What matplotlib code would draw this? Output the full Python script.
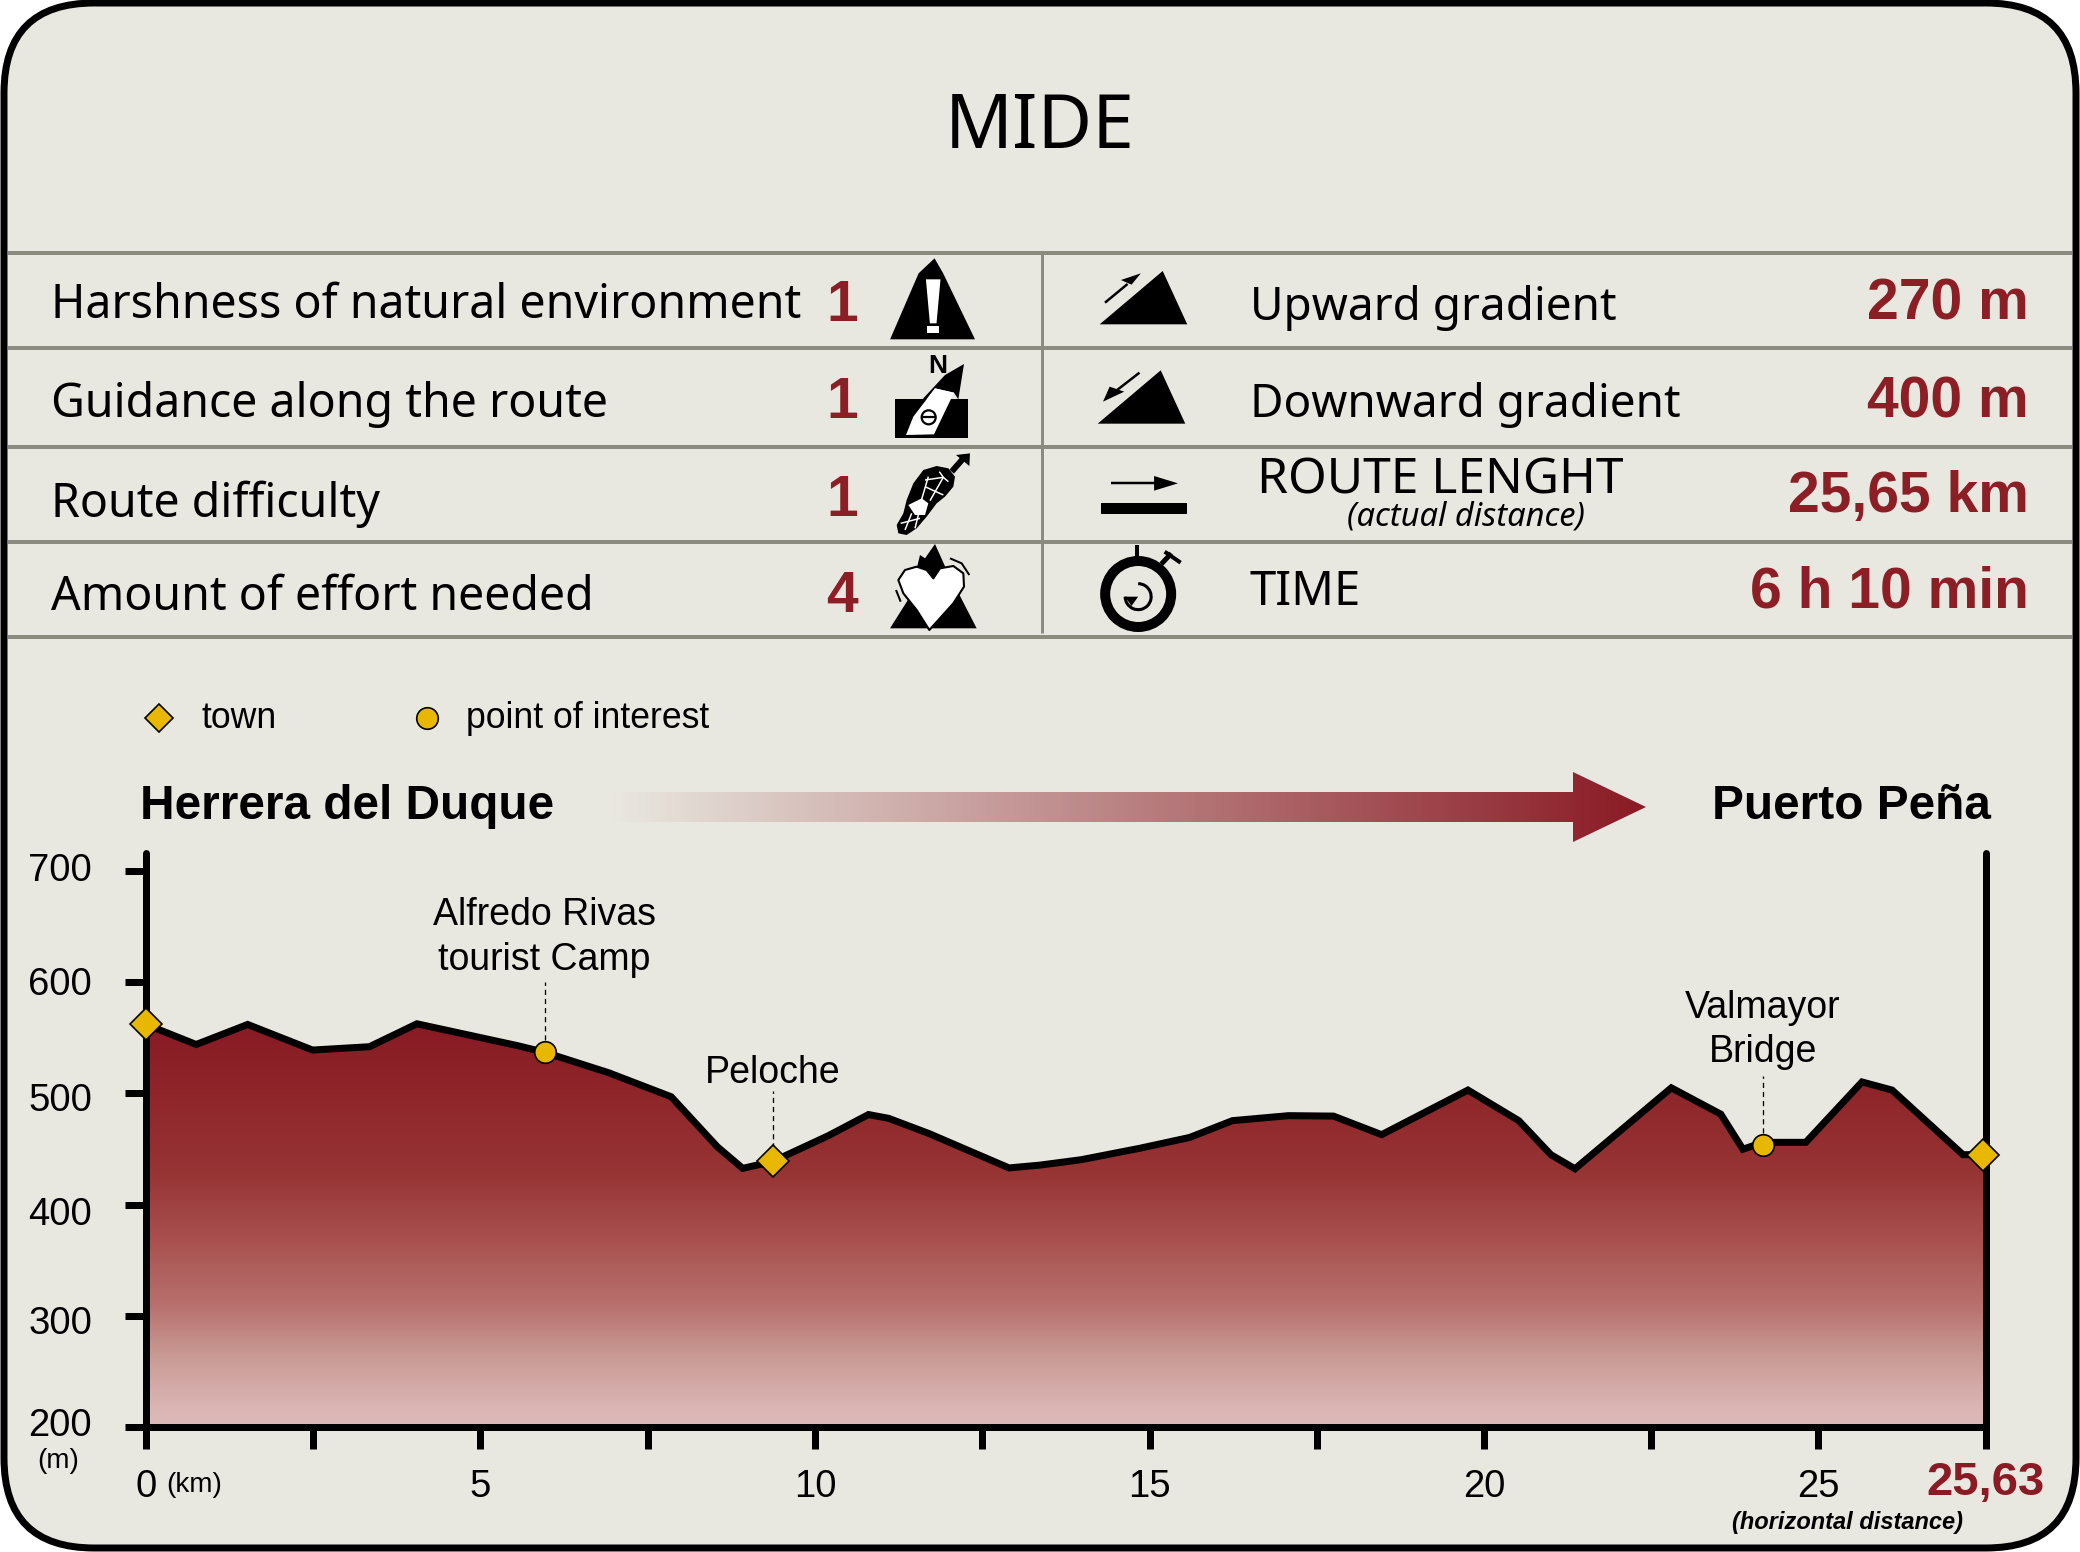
import numpy as np
import matplotlib
matplotlib.use("Agg")
import matplotlib.pyplot as plt
from matplotlib.colors import LinearSegmentedColormap
from matplotlib.patches import FancyBboxPatch, Polygon, Circle, Arc
from matplotlib.transforms import ScaledTranslation, blended_transform_factory

# ---- data -------------------------------------------------------------
title = "MIDE"
left_labels = ["Harshness of natural environment", "Guidance along the route",
               "Route difficulty", "Amount of effort needed"]
left_scores = ["1", "1", "1", "4"]
right_labels = ["Upward gradient", "Downward gradient", "ROUTE LENGHT", "TIME"]
right_values = ["270 m", "400 m", "25,65 km", "6 h 10 min"]
start_name = "Herrera del Duque"
end_name = "Puerto Peña"

profile_km = [0, 0.75, 1.52, 2.49, 3.34, 4.05, 5.55, 5.96, 6.92, 7.85, 8.54, 8.92, 9.37,
              10.2, 10.8, 11.1, 11.7, 12.9, 13.36, 13.98, 14.85, 15.6, 16.24, 17.08, 17.75,
              18.47, 19.76, 20.52, 21.0, 21.36, 22.8, 23.54, 23.87, 24.17, 24.81, 25.65,
              26.1, 27.16, 27.46]
profile_m = [562, 544, 562, 539, 542, 562.6, 543, 537, 518.5, 497, 452, 432.6, 438.8,
             462, 481, 477.6, 464, 433, 435.5, 440.4, 450.6, 460.4, 475.5, 480, 479.6,
             462.9, 503, 475.5, 444.9, 432.2, 505, 481.3, 449.8, 456, 456, 510.3,
             503, 444.9, 445]

town_km = [0, 9.37, 27.46]
town_m = [562, 438.8, 445]
poi_km = [5.96, 24.17]
poi_m = [537, 454]

label_text = ["Alfredo Rivas", "tourist Camp", "Peloche", "Valmayor", "Bridge"]
label_km = [5.96, 5.96, 9.37, 24.17, 24.17]
label_m = [651.5, 611, 509.4, 568, 528.3]

leader_km = [5.96, 9.37, 24.17]
leader_top = [600, 502, 516]
leader_bottom = [548, 451, 464]

y_ticks = [200, 300, 400, 500, 600, 700]
x_ticks = [0, 2.5, 5, 7.5, 10, 12.5, 15, 17.5, 20, 22.5, 25, 27.5]
x_tick_labels = ["0", "", "5", "", "10", "", "15", "", "20", "", "25", ""]
end_tick_label = "25,63"

# ---- style ------------------------------------------------------------
W, H = 2080, 1552
PX = 0.72
BG = "#e9e8e0"
RED = "#8c1f25"
RULE = "#8b8b80"
YEL = "#e8b800"
SANS = "Liberation Sans"
BODY = "Noto Sans"

fig = plt.figure(figsize=(20.8, 15.52), dpi=100, facecolor="white")
page = fig.add_axes([0, 0, 1, 1])
page.set_xlim(0, W)
page.set_ylim(H, 0)
page.axis("off")

page.add_patch(FancyBboxPatch((4 + 90, 3 + 90), W - 8 - 180, H - 7 - 180,
                              boxstyle="round,pad=90,rounding_size=90",
                              fc=BG, ec="black", lw=7 * PX, zorder=0))

page.text(1040, 148, title, family=BODY, fontsize=54, ha="center", va="baseline", color="black")

for y in [253, 348, 447, 542, 637]:
    page.plot([8, 2072], [y, y], color=RULE, lw=4 * PX, solid_capstyle="butt", zorder=1)
page.plot([1042, 1042], [253, 633], color=RULE, lw=3 * PX, solid_capstyle="butt", zorder=1)

for label, y in zip(left_labels, [318.5, 416.5, 516.5, 610]):
    page.text(51, y, label, family=BODY, fontsize=33.5, va="baseline", color="black")
for score, y in zip(left_scores, [300, 397, 495, 591]):
    page.text(826, y, score, family=SANS, weight="bold", fontsize=41, va="center_baseline", color=RED)

for label, x, y, s in zip(right_labels, [1250, 1250, 1257, 1250], [320, 417, 493, 605], [33.1, 33.1, 35.8, 34]):
    page.text(x, y, label, family=BODY, fontsize=s, va="baseline", color="black")
page.text(1466, 526, "(actual distance)", family=BODY, style="italic", fontsize=23.5,
          ha="center", va="baseline", color="black")
for value, y in zip(right_values, [299, 396, 491, 586]):
    page.text(2029, y, value, family=SANS, weight="bold", fontsize=41, ha="right",
              va="center_baseline", color=RED)


# ---- icons (decoration, in page pixels) --------------------------------
def zl(pts):
    return [(x / 1.5077, 240 + y / 3) for x, y in pts]


def zr(pts):
    return [(1040 + x / 1.5077, 240 + y / 3) for x, y in pts]


def zi(pts):
    return [(880 + x / 3, 340 + y / 3) for x, y in pts]


def poly(pts, fc="black", ec="none", lw=0, z=3):
    page.add_patch(Polygon(pts, closed=True, fc=fc, ec=ec, lw=lw, zorder=z, joinstyle="round"))


def seg(pts, lw, color="black", z=4):
    xs, ys = zip(*pts)
    page.plot(xs, ys, color=color, lw=lw * PX, solid_capstyle="butt", zorder=z)


# warning mountain
poly(zl([(1342, 298), (1385, 100), (1393, 85), (1409, 55), (1422, 100), (1470, 298)]))
poly(zl([(1396, 118), (1418, 118), (1412, 250), (1402, 250)]), fc="white", z=4)
poly(zl([(1398, 258), (1416, 258), (1416, 280), (1398, 280)]), fc="white", z=4)
# compass
poly(zi([(45, 178), (263, 178), (263, 295), (45, 295)]))
poly(zi([(100, 230), (130, 175), (195, 105), (252, 72), (235, 178), (222, 158), (165, 145)]), z=4)
poly(zi([(78, 285), (162, 283), (222, 158), (165, 145), (100, 230)]), fc="white", z=4)
page.text(*zi([(172, 78)])[0], "N", family=SANS, weight="bold", fontsize=19, ha="center", va="center", zorder=5)
cx, cy = zi([(146, 232)])[0]
page.add_patch(Circle((cx, cy), 7, fc="white", ec="black", lw=1.6, zorder=5))
page.plot([cx - 6, cx + 6], [cy, cy], color="black", lw=1.6, zorder=6)
# boot sole
poly(zi([(50, 555), (70, 520), (80, 480), (100, 430), (130, 390), (170, 378), (205, 385),
         (225, 410), (220, 440), (195, 470), (170, 490), (140, 530), (110, 565), (80, 585), (55, 580)]))
poly(zi([(85, 495), (125, 475), (145, 490), (135, 525), (105, 525)]), fc="white", z=4)
seg(zi([(178, 395), (190, 412), (150, 482)]), 1.5, "white")
seg(zi([(135, 420), (190, 412)]), 1.5, "white")
seg(zi([(145, 410), (125, 478)]), 1.5, "white")
seg(zi([(135, 440), (190, 465)]), 1.5, "white")
seg(zi([(205, 425), (190, 412)]), 1.5, "white")
seg(zi([(95, 520), (75, 570)]), 1.5, "white")
seg(zi([(115, 525), (105, 565)]), 1.5, "white")
seg(zi([(62, 550), (120, 535)]), 1.5, "white")
seg(zi([(215, 395), (250, 355)]), 6)
poly(zi([(228, 345), (270, 340), (268, 378)]))
# heart mountain
poly(zi([(30, 865), (90, 770), (120, 645), (135, 655), (165, 612), (200, 690), (290, 865)]))
poly(zi([(148, 870), (110, 810), (70, 760), (55, 720), (75, 690), (110, 680), (140, 690), (160, 715),
         (180, 685), (220, 678), (250, 700), (252, 740), (220, 790), (175, 840)]),
     fc="white", ec="black", lw=1.5, z=4)
seg(zi([(210, 655), (245, 670), (268, 705)]), 2)
seg(zi([(48, 750), (62, 785)]), 2)
# up gradient
poly(zr([(90, 253), (185, 93), (222, 253)]))
seg(zr([(98, 188), (132, 132)]), 2.5)
poly(zr([(152, 100), (122, 120), (138, 134)]))
# down gradient
poly(zr([(87, 551), (182, 391), (219, 551)]))
seg(zr([(150, 398), (115, 452)]), 2.5)
poly(zr([(95, 485), (105, 440), (127, 455)]))
# length
seg(zr([(107, 730), (175, 730)]), 2.5)
poly(zr([(172, 708), (208, 730), (172, 752)]))
poly(zr([(92, 788), (222, 788), (222, 823), (92, 823)]))
# stopwatch
cx, cy = zr([(148, 1062)])[0]
page.add_patch(Circle((cx, cy), 33, fc="none", ec="black", lw=10 * PX, zorder=3))
seg(zr([(147, 915), (147, 950)]), 4)
seg(zr([(183, 972), (198, 940)]), 5)
seg(zr([(188, 935), (212, 968)]), 4)
ax_c = zr([(148, 1070)])[0]
page.add_patch(Arc(ax_c, 26, 26, theta1=-90, theta2=180, color="black", lw=2.2, zorder=4))
poly(zr([(128, 1070), (148, 1070), (138, 1098)]))

# ---- legend -----------------------------------------------------------
page.plot([159], [718], marker="D", ms=14, mfc=YEL, mec="black", mew=1.2, ls="none")
page.text(202, 718, "town", family=SANS, fontsize=25.7, va="center", color="black")
page.plot([427], [718], marker="o", ms=15.5, mfc=YEL, mec="black", mew=1.2, ls="none")
page.text(466, 718, "point of interest", family=SANS, fontsize=25.7, va="center", color="black")

# ---- route header -----------------------------------------------------
page.text(140, 819, start_name, family=SANS, weight="bold", fontsize=34.4, va="baseline", color="black")
page.text(1991, 819, end_name, family=SANS, weight="bold", fontsize=34.4, ha="right", va="baseline", color="black")

arrow_cmap = LinearSegmentedColormap.from_list("arrow", [BG, "#8a1a24"])
im = page.imshow(np.linspace(0, 1, 256)[None, :], extent=[610, 1646, 842, 772], aspect="auto",
                 cmap=arrow_cmap, zorder=2)
clip = Polygon([(610, 792), (1573, 792), (1573, 772), (1646, 807), (1573, 842), (1573, 822), (610, 822)],
               closed=True, transform=page.transData, fc="none", ec="none")
page.add_patch(clip)
im.set_clip_path(clip)
page.set_xlim(0, W)
page.set_ylim(H, 0)

# ---- elevation profile ------------------------------------------------
left, right, top, bottom = 146, 1985.75, 853, 1427
ax = fig.add_axes([left / W, 1 - bottom / H, (right - left) / W, (bottom - top) / H])
ax.patch.set_alpha(0)
ax.set_xlim(0, 27.5)
ax.set_ylim(200, 716.2)

fill_cmap = LinearSegmentedColormap.from_list(
    "fill", [(0.0, "#deb9b9"), (0.05, "#dab5b4"), (0.175, "#c99a94"), (0.30, "#b8716e"),
             (0.465, "#a8504e"), (0.63, "#973434"), (0.85, "#8e2429"), (1.0, "#881a24")])
grad = ax.imshow(np.linspace(1, 0, 256)[:, None],
                 extent=[0, max(profile_km), 200, max(profile_m)],
                 aspect="auto", cmap=fill_cmap, zorder=1)
area = Polygon(list(zip(profile_km, profile_m)) + [(profile_km[-1], 200), (0, 200)],
               closed=True, transform=ax.transData, fc="none", ec="none")
ax.add_patch(area)
grad.set_clip_path(area)
ax.set_xlim(0, 27.5)
ax.set_ylim(200, 716.2)

ax.plot(profile_km, profile_m, color="black", lw=7 * PX, solid_joinstyle="miter", zorder=3)
ax.vlines(leader_km, leader_bottom, leader_top, color="black", lw=1.3 * PX,
          linestyles=(0, (4, 3)), zorder=2)
ax.plot(town_km, town_m, ls="none", marker="D", ms=16, mfc=YEL, mec="black", mew=1.2,
        zorder=6, clip_on=False)
ax.plot(poi_km, poi_m, ls="none", marker="o", ms=15.5, mfc=YEL, mec="black", mew=1.2,
        zorder=6, clip_on=False)

for text, km, m in zip(label_text, label_km, label_m):
    ax.text(km, m, text, family=SANS, fontsize=27, ha="center", va="baseline", color="black")

ax.spines["top"].set_visible(False)
for side in ["left", "right", "bottom"]:
    ax.spines[side].set_linewidth(7 * PX)
    ax.spines[side].set_capstyle("round")
ax.spines["left"].set_zorder(4)
ax.spines["right"].set_zorder(4)

ax.set_yticks(y_ticks)
ax.set_xticks(x_ticks)
ax.set_xticklabels(x_tick_labels)
ax.tick_params(axis="y", length=21 * PX, width=7 * PX, pad=33 * PX, labelsize=27.5)
ax.tick_params(axis="x", length=22 * PX, width=7 * PX, pad=20 * PX, labelsize=27.5)
for lab in ax.get_yticklabels() + ax.get_xticklabels():
    lab.set_family(SANS)
label_nudge = [5, -4, -6, -4, 1, 4]
fig.canvas.draw()
for lab, dy in zip(ax.get_yticklabels(), label_nudge):
    lab.set_transform(lab.get_transform() + ScaledTranslation(0, dy * PX / 72, fig.dpi_scale_trans))

edge = blended_transform_factory(ax.transData, page.transData)
ax.text(27.5, 1483, end_tick_label, transform=edge, family=SANS, weight="bold", fontsize=34,
        color="#8a1a24", ha="center", va="center", clip_on=False)

page.text(58, 1461, "(m)", family=SANS, fontsize=20, ha="center", va="center", color="black")
page.text(166, 1485, "(km)", family=SANS, fontsize=20, va="center", color="black")
page.text(1847, 1522, "(horizontal distance)", family=SANS, weight="bold",
          style="italic", fontsize=17, ha="center", va="center", color="black")

fig.savefig("out.png", dpi=100, facecolor="white")
